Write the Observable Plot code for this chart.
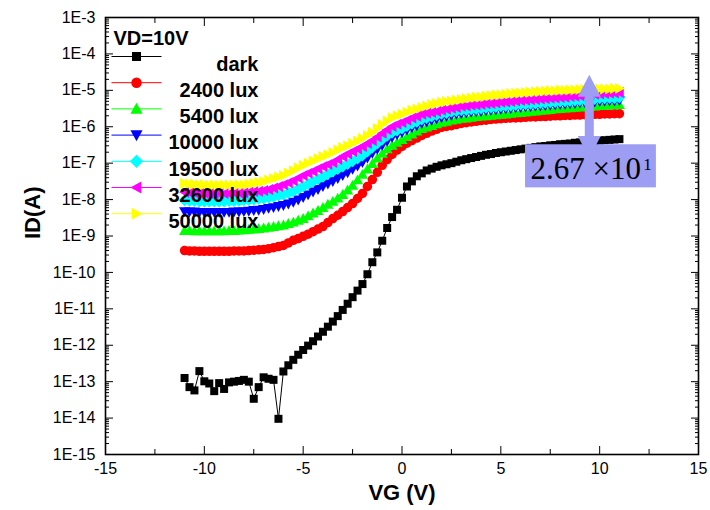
<!DOCTYPE html>
<html><head><meta charset="utf-8">
<script src="https://cdn.jsdelivr.net/npm/d3@7"></script>
<script src="https://cdn.jsdelivr.net/npm/@observablehq/plot@0.6"></script>
<style>body{margin:0;background:#fff;}</style>
</head><body><div id="chart"></div>
<script>
// ---- data (log10 of ID in A), VG from -11 V to 11 V every 0.25 V ----
const VG = d3.range(-11, 11.0001, 0.25);

const darkLog = [
 -12.90,-13.15,-13.24,-12.71, -12.99,-13.05,-13.26,-13.04, -13.20,-13.02,-13.00,-12.98,
 -12.95,-13.00,-13.47,-13.15, -12.88,-12.92,-12.95,-14.02, -12.72,-12.55,-12.40,-12.26,
 -12.13,-12.01,-11.89,-11.76, -11.63,-11.49,-11.35,-11.20, -11.03,-10.86,-10.68,-10.50,
 -10.32,-10.05,-9.72,-9.45, -9.13,-8.78,-8.48,-8.28, -7.95,-7.64,-7.50,-7.36,
 -7.28,-7.20,-7.15,-7.10, -7.06,-7.03,-7.00,-6.96, -6.92,-6.89,-6.86,-6.83,
 -6.80,-6.77,-6.75,-6.72, -6.70,-6.68,-6.66,-6.64, -6.62,-6.60,-6.58,-6.56,
 -6.54,-6.53,-6.51,-6.50, -6.48,-6.47,-6.46,-6.44, -6.43,-6.42,-6.40,-6.39,
 -6.38,-6.37,-6.36,-6.35, -6.34];

const lux2400Log = [
 -9.40,-9.41,-9.41,-9.42, -9.42,-9.42,-9.42,-9.42, -9.42,-9.42,-9.41,-9.41,
 -9.41,-9.40,-9.39,-9.38, -9.37,-9.35,-9.32,-9.29, -9.26,-9.19,-9.12,-9.07,
 -9.01,-8.95,-8.88,-8.81, -8.74,-8.63,-8.52,-8.43, -8.33,-8.22,-8.11,-7.97,
 -7.83,-7.64,-7.45,-7.25, -7.06,-6.90,-6.76,-6.64, -6.54,-6.45,-6.38,-6.31,
 -6.24,-6.18,-6.12,-6.07, -6.02,-5.99,-5.97,-5.94, -5.91,-5.89,-5.87,-5.85,
 -5.83,-5.82,-5.80,-5.79, -5.78,-5.77,-5.76,-5.76, -5.75,-5.74,-5.73,-5.73,
 -5.72,-5.72,-5.71,-5.70, -5.70,-5.69,-5.69,-5.68, -5.68,-5.67,-5.67,-5.66,
 -5.66,-5.65,-5.65,-5.64, -5.64];

const lux5400Log = [
 -8.85,-8.85,-8.86,-8.86, -8.86,-8.86,-8.86,-8.86, -8.86,-8.85,-8.85,-8.84,
 -8.83,-8.82,-8.81,-8.80, -8.78,-8.76,-8.74,-8.72, -8.70,-8.66,-8.62,-8.57,
 -8.52,-8.45,-8.37,-8.30, -8.22,-8.13,-8.05,-7.96, -7.86,-7.74,-7.61,-7.46,
 -7.31,-7.16,-7.01,-6.86, -6.73,-6.61,-6.51,-6.43, -6.35,-6.27,-6.20,-6.12,
 -6.05,-6.01,-5.97,-5.92, -5.88,-5.85,-5.82,-5.80, -5.77,-5.76,-5.74,-5.72,
 -5.71,-5.70,-5.69,-5.67, -5.66,-5.65,-5.63,-5.62, -5.61,-5.60,-5.58,-5.57,
 -5.55,-5.54,-5.53,-5.51, -5.50,-5.49,-5.48,-5.47, -5.46,-5.45,-5.44,-5.43,
 -5.42,-5.41,-5.40,-5.40, -5.39];

const lux10000Log = [
 -8.33,-8.34,-8.34,-8.35, -8.35,-8.35,-8.35,-8.35, -8.35,-8.35,-8.34,-8.34,
 -8.33,-8.32,-8.30,-8.29, -8.27,-8.24,-8.22,-8.19, -8.16,-8.12,-8.07,-8.01,
 -7.94,-7.87,-7.79,-7.72, -7.64,-7.57,-7.50,-7.42, -7.34,-7.26,-7.17,-7.08,
 -6.98,-6.86,-6.73,-6.62, -6.51,-6.40,-6.29,-6.22, -6.16,-6.09,-6.03,-5.97,
 -5.91,-5.87,-5.83,-5.79, -5.75,-5.72,-5.69,-5.66, -5.64,-5.62,-5.60,-5.59,
 -5.58,-5.56,-5.55,-5.54, -5.52,-5.51,-5.50,-5.48, -5.47,-5.46,-5.45,-5.44,
 -5.43,-5.42,-5.41,-5.40, -5.39,-5.38,-5.37,-5.36, -5.35,-5.34,-5.33,-5.32,
 -5.31,-5.30,-5.29,-5.29, -5.28];

const lux19500Log = [
 -8.02,-8.03,-8.04,-8.05, -8.05,-8.05,-8.05,-8.05, -8.05,-8.04,-8.04,-8.03,
 -8.02,-8.01,-8.00,-7.98, -7.97,-7.94,-7.92,-7.89, -7.86,-7.82,-7.77,-7.71,
 -7.64,-7.57,-7.50,-7.44, -7.37,-7.30,-7.23,-7.16, -7.09,-7.02,-6.95,-6.87,
 -6.79,-6.68,-6.57,-6.46, -6.35,-6.25,-6.16,-6.10, -6.05,-5.98,-5.92,-5.86,
 -5.80,-5.76,-5.72,-5.68, -5.64,-5.62,-5.59,-5.57, -5.55,-5.54,-5.52,-5.51,
 -5.50,-5.48,-5.47,-5.46, -5.44,-5.43,-5.42,-5.40, -5.39,-5.38,-5.37,-5.36,
 -5.35,-5.34,-5.33,-5.32, -5.31,-5.30,-5.29,-5.28, -5.27,-5.26,-5.25,-5.24,
 -5.22,-5.22,-5.21,-5.21, -5.20];

const lux32600Log = [
 -7.80,-7.81,-7.82,-7.83, -7.83,-7.83,-7.83,-7.83, -7.83,-7.83,-7.82,-7.82,
 -7.81,-7.80,-7.78,-7.77, -7.75,-7.72,-7.68,-7.64, -7.59,-7.54,-7.48,-7.41,
 -7.34,-7.28,-7.22,-7.15, -7.09,-7.04,-6.98,-6.90, -6.82,-6.75,-6.68,-6.61,
 -6.54,-6.46,-6.38,-6.28, -6.18,-6.08,-5.99,-5.93, -5.88,-5.82,-5.76,-5.71,
 -5.66,-5.63,-5.61,-5.58, -5.55,-5.52,-5.49,-5.47, -5.44,-5.43,-5.41,-5.40,
 -5.39,-5.37,-5.36,-5.35, -5.33,-5.32,-5.31,-5.29, -5.28,-5.27,-5.26,-5.25,
 -5.24,-5.23,-5.22,-5.21, -5.20,-5.19,-5.17,-5.16, -5.15,-5.14,-5.13,-5.11,
 -5.10,-5.09,-5.08,-5.07, -5.06];

const lux50000Log = [
 -7.56,-7.57,-7.58,-7.59, -7.59,-7.60,-7.60,-7.60, -7.60,-7.60,-7.60,-7.59,
 -7.59,-7.57,-7.55,-7.53, -7.50,-7.46,-7.42,-7.38, -7.34,-7.28,-7.21,-7.13,
 -7.06,-7.00,-6.94,-6.88, -6.82,-6.77,-6.71,-6.64, -6.57,-6.52,-6.46,-6.39,
 -6.32,-6.24,-6.16,-6.05, -5.94,-5.84,-5.75,-5.70, -5.66,-5.60,-5.55,-5.51,
 -5.47,-5.43,-5.39,-5.36, -5.33,-5.31,-5.29,-5.27, -5.25,-5.23,-5.21,-5.19,
 -5.18,-5.16,-5.14,-5.13, -5.12,-5.11,-5.09,-5.08, -5.07,-5.06,-5.05,-5.04,
 -5.03,-5.02,-5.01,-5.01, -5.00,-5.00,-4.99,-4.99, -4.98,-4.98,-4.97,-4.97,
 -4.96,-4.96,-4.96,-4.95, -4.95];

const seriesNames = ["dark","2400 lux","5400 lux","10000 lux","19500 lux","32600 lux","50000 lux"];
const seriesColors = ["#000000","#ff0000","#00ff00","#0000ff","#00ffff","#ff00ff","#ffff00"];
const seriesLogs = [darkLog, lux2400Log, lux5400Log, lux10000Log, lux19500Log, lux32600Log, lux50000Log];

const xTicks = [-15,-10,-5,0,5,10,15];
const xMinorTicks = [-12.5,-7.5,-2.5,2.5,7.5,12.5];
const yTicks = [1e-15,1e-14,1e-13,1e-12,1e-11,1e-10,1e-9,1e-8,1e-7,1e-6,1e-5,1e-4,1e-3];
const yTickLabels = ["1E-15","1E-14","1E-13","1E-12","1E-11","1E-10","1E-9","1E-8","1E-7","1E-6","1E-5","1E-4","1E-3"];
const yMinorTicks = yTicks.slice(0,-1).flatMap(d => [2,3,4,5,6,7,8,9].map(k => k*d));

// annotation: ratio between 50000 lux and dark at high VG
const ratioText = "2.67 ×10";
const ratioExp = "1";
const arrowVG = 9.5, arrowTop = 2.6e-5, arrowBottom = 1.35e-7;
const boxVG = [6.25, 12.87], boxID = [3.2e-7, 2.1e-8];
const textVG = 6.5, textID = 3.6e-8, expVG = 12.2, expID = 6.4e-8;
const annoColor = "#9d9df4";

// ---- symbols ----
const half = s => Math.sqrt(s / Math.PI);
const symSquare = {draw(c, s) { const h = half(s); c.rect(-h, -h, 2*h, 2*h); }};
const symCircle = {draw(c, s) { const h = half(s)*0.95; c.moveTo(h, 0); c.arc(0, 0, h, 0, 2*Math.PI); }};
const tri = (ang) => ({draw(c, s) {
  const h = half(s)*1.1;
  const pts = [[0,-h],[h,h*0.8],[-h,h*0.8]];
  const ca = Math.cos(ang), sa = Math.sin(ang);
  pts.forEach(([x,y], i) => { const X = x*ca - y*sa, Y = x*sa + y*ca; i ? c.lineTo(X,Y) : c.moveTo(X,Y); });
  c.closePath();
}});
const symDiamond = {draw(c, s) { const h = half(s)*1.2; c.moveTo(0,-h); c.lineTo(h,0); c.lineTo(0,h); c.lineTo(-h,0); c.closePath(); }};
const symLine = {draw(c) { c.moveTo(-25, 0); c.lineTo(25, 0); }};
const seriesSymbols = [symSquare, symCircle, tri(0), tri(Math.PI), symDiamond, tri(-Math.PI/2), tri(Math.PI/2)];
const seriesR = [4, 5, 5, 5, 5, 5, 5];

const rows = seriesLogs.map((arr, s) => arr.map((l, i) => ({VG: VG[i], ID: Math.pow(10, l), s})));

const seriesMarks = rows.flatMap((data, s) => [
  Plot.line(data, {x: "VG", y: "ID", stroke: seriesColors[s], strokeWidth: 1}),
  Plot.dot(data, {x: "VG", y: "ID", fill: seriesColors[s], stroke: "none", symbol: seriesSymbols[s], r: seriesR[s]})
]);

const legendMarks = seriesNames.flatMap((name, s) => {
  const dy = 39 + s*26.2;
  return [
    Plot.dot([0], {frameAnchor: "top-left", dx: 31, dy, symbol: symLine, stroke: seriesColors[s], fill: "none", strokeWidth: 1}),
    Plot.dot([0], {frameAnchor: "top-left", dx: 31, dy, symbol: seriesSymbols[s], r: seriesR[s] + 0.5, fill: seriesColors[s], stroke: "none"}),
    Plot.text([name], {frameAnchor: "top-left", dx: 153, dy, textAnchor: "end", fontSize: 20, fontWeight: "bold"})
  ];
});

// Double-headed arrow: a line between the two ends, with a filled head drawn by a
// render transform that reads the scaled positions of both ends.
function doubleArrow(v, top, bottom, color) {
  return Plot.dot([{v, id: top}, {v, id: bottom}], {
    x: "v", y: "id", r: 1, fill: color, stroke: "none",
    render(index, scales, values, dims, context) {
      const X = values.x, Y = values.y;
      const x0 = X[0], yt = Y[0], yb = Y[1];
      const hw = 11.5, hl = 22, sw = 4.5;
      const p = [
        [x0, yt], [x0 + hw, yt + hl], [x0 + sw, yt + hl], [x0 + sw, yb - hl], [x0 + hw, yb - hl],
        [x0, yb], [x0 - hw, yb - hl], [x0 - sw, yb - hl], [x0 - sw, yt + hl], [x0 - hw, yt + hl]
      ];
      const path = document.createElementNS("http://www.w3.org/2000/svg", "path");
      path.setAttribute("d", "M" + p.map(q => q.join(",")).join("L") + "Z");
      path.setAttribute("fill", color);
      const g = document.createElementNS("http://www.w3.org/2000/svg", "g");
      g.appendChild(path);
      return g;
    }
  });
}

const chart = Plot.plot({
  width: 710, height: 510,
  marginLeft: 105, marginRight: 12, marginTop: 17, marginBottom: 56,
  style: {fontFamily: "'Liberation Sans', Arial, sans-serif", fontSize: "16px", color: "black", background: "white"},
  x: {domain: [-15, 15]},
  y: {type: "log", domain: [1e-15, 1e-3]},
  marks: [
    ...seriesMarks,
    // annotation
    doubleArrow(arrowVG, arrowTop, arrowBottom, annoColor),
    Plot.rect([0], {x1: boxVG[0], x2: boxVG[1], y1: boxID[1], y2: boxID[0], fill: annoColor}),
    Plot.text([ratioText], {x: textVG, y: textID, textAnchor: "start", lineAnchor: "bottom", fontFamily: "'Liberation Serif', 'Times New Roman', serif", fontSize: 31}),
    Plot.text([ratioExp], {x: expVG, y: expID, textAnchor: "start", lineAnchor: "bottom", fontFamily: "'Liberation Serif', 'Times New Roman', serif", fontSize: 17}),
    // legend
    Plot.text(["VD=10V"], {frameAnchor: "top-left", dx: 8, dy: 13, textAnchor: "start", fontSize: 20, fontWeight: "bold"}),
    ...legendMarks,
    // axes
    Plot.frame({stroke: "black", strokeWidth: 1.6}),
    Plot.axisX({ticks: xTicks, tickSize: -8, tickPadding: 16, tickFormat: d => String(d), fontSize: 16, label: null}),
    Plot.axisX({ticks: xMinorTicks, tickSize: -5, tickFormat: () => "", label: null}),
    Plot.axisX({anchor: "top", ticks: xTicks, tickSize: -8, tickFormat: () => "", label: null}),
    Plot.axisX({anchor: "top", ticks: xMinorTicks, tickSize: -5, tickFormat: () => "", label: null}),
    Plot.axisY({ticks: yTicks, tickSize: -8, tickPadding: 18, tickFormat: d => yTickLabels[yTicks.indexOf(d)], fontSize: 16, label: null}),
    Plot.axisY({ticks: yMinorTicks, tickSize: -4, tickFormat: () => "", label: null}),
    Plot.axisY({anchor: "right", ticks: yTicks, tickSize: -8, tickFormat: () => "", label: null}),
    Plot.axisY({anchor: "right", ticks: yMinorTicks, tickSize: -4, tickFormat: () => "", label: null}),
    Plot.text(["VG (V)"], {frameAnchor: "bottom", dy: 45, lineAnchor: "bottom", fontSize: 22, fontWeight: "bold"}),
    Plot.text(["ID(A)"], {frameAnchor: "left", dx: -73, dy: 3, rotate: -90, fontSize: 22, fontWeight: "bold"})
  ]
});
document.getElementById("chart").appendChild(chart);
</script></body></html>
